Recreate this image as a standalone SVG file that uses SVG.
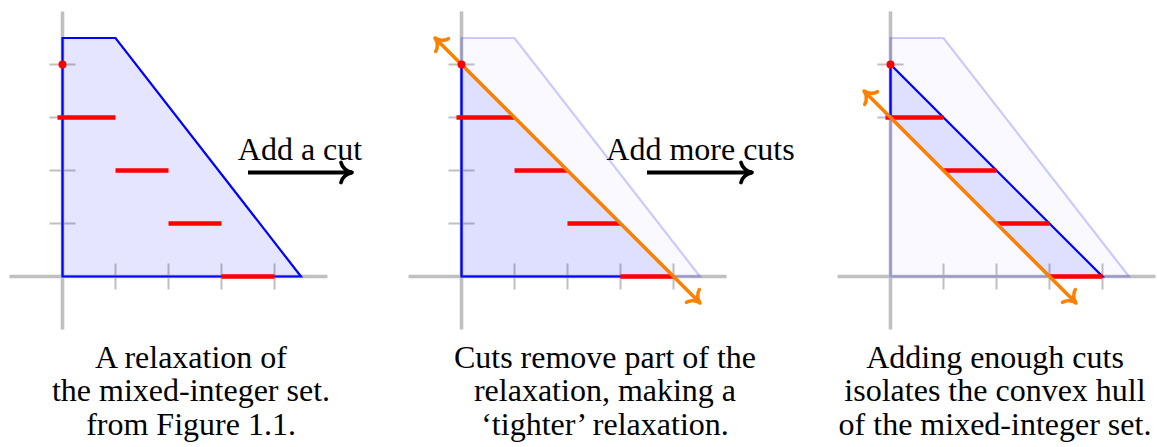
<svg xmlns="http://www.w3.org/2000/svg" width="1157" height="447" viewBox="0 0 1157 447">
<style>
.axis{stroke:#c0c0c0;stroke-width:3.6;fill:none}
.tick{stroke:#c0c0c0;stroke-width:2;fill:none}
.relax{fill:#0000ff;fill-opacity:0.1;stroke:#0000ff;stroke-width:2.2;stroke-linejoin:miter}
.faded{fill:#0000ff;fill-opacity:0.025;stroke:#0000ff;stroke-opacity:0.2;stroke-width:2.2}
.seg{stroke:#ff0000;stroke-width:4.5;fill:none}
.dot{fill:#ff0000}
.cut{stroke:#ff8000;stroke-width:3.5;fill:none;marker-start:url(#tipO);marker-end:url(#tipO)}
.conn{stroke:#000;stroke-width:3.8;fill:none;marker-end:url(#tipK)}
.lbl{font-family:'Liberation Serif','DejaVu Serif',serif;font-size:32px;fill:#000;text-anchor:middle}
</style>
<defs>
<marker id="tipK" markerUnits="userSpaceOnUse" markerWidth="30" markerHeight="30" refX="0" refY="0" orient="auto" overflow="visible" viewBox="-15 -15 30 30">
<path d="M -11 -10 C -10 -5 -5 -0.8 0 0 C -5 0.8 -10 5 -11 10" fill="none" stroke="#000" stroke-width="3.8" stroke-linecap="round" stroke-linejoin="round"/>
</marker>
<marker id="tipO" markerUnits="userSpaceOnUse" markerWidth="30" markerHeight="30" refX="0" refY="0" orient="auto-start-reverse" overflow="visible" viewBox="-15 -15 30 30">
<path d="M -10 -9 C -9 -4.5 -4.5 -0.7 0 0 C -4.5 0.7 -9 4.5 -10 9" fill="none" stroke="#ff8000" stroke-width="3.5" stroke-linecap="round" stroke-linejoin="round"/>
</marker>
</defs>

<g id="panel1">
<path class="axis" d="M9.5 276.5H327.5M62.5 329.5V11.5"/>
<path class="tick" d="M115.5 263.5V289.5M168.5 263.5V289.5M221.5 263.5V289.5M274.5 263.5V289.5M49.5 223.5H75.5M49.5 170.5H75.5M49.5 117.5H75.5M49.5 64.5H75.5"/>
<polygon class="relax" points="62.5,276.5 62.5,38 115.5,38 301,276.5"/>
<path class="seg" d="M57.5 117.5H115.5M115.5 170.5H168.5M168.5 223.5H221.5M221.5 276.5H274.5"/>
<circle class="dot" cx="62.5" cy="64.5" r="4"/>
<text class="lbl" x="191" y="367.5">A relaxation of</text>
<text class="lbl" x="191" y="401">the mixed-integer set.</text>
<text class="lbl" x="191" y="434.5">from Figure 1.1.</text>
</g>

<g id="panel2">
<path class="axis" d="M408.5 276.5H726.5M461.5 329.5V11.5"/>
<path class="tick" d="M514.5 263.5V289.5M567.5 263.5V289.5M620.5 263.5V289.5M673.5 263.5V289.5M448.5 223.5H474.5M448.5 170.5H474.5M448.5 117.5H474.5M448.5 64.5H474.5"/>
<polygon class="faded" points="461.5,276.5 461.5,38 514.5,38 700,276.5"/>
<polygon class="relax" points="461.5,276.5 461.5,64.5 673.5,276.5"/>
<path class="seg" d="M456.5 117.5H514.5M514.5 170.5H567.5M567.5 223.5H620.5M620.5 276.5H673.5"/>
<path class="cut" d="M435 38L700 303"/>
<circle class="dot" cx="461.5" cy="64.5" r="4"/>
<text class="lbl" x="605" y="367.5">Cuts remove part of the</text>
<text class="lbl" x="605" y="401">relaxation, making a</text>
<text class="lbl" x="605" y="434.5">‘tighter’ relaxation.</text>
</g>

<g id="panel3">
<path class="axis" d="M837.5 276.5H1155.5M890.5 329.5V11.5"/>
<path class="tick" d="M943.5 263.5V289.5M996.5 263.5V289.5M1049.5 263.5V289.5M1102.5 263.5V289.5M877.5 117.5H903.5M877.5 64.5H903.5"/>
<polygon class="faded" points="890.5,276.5 890.5,38 943.5,38 1129,276.5"/>
<polygon class="relax" points="890.5,64.5 890.5,117.5 1049.5,276.5 1102.5,276.5"/>
<path class="seg" d="M885.5 117.5H943.5M943.5 170.5H996.5M996.5 223.5H1049.5M1049.5 276.5H1102.5"/>
<path class="cut" d="M864 91L1076 303"/>
<circle class="dot" cx="890.5" cy="64.5" r="4"/>
<text class="lbl" x="995" y="367.5">Adding enough cuts</text>
<text class="lbl" x="995" y="401">isolates the convex hull</text>
<text class="lbl" x="995" y="434.5">of the mixed-integer set.</text>
</g>

<g id="connectors">
<path class="conn" d="M248 172.5H352"/>
<text class="lbl" x="300" y="159.5">Add a cut</text>
<path class="conn" d="M647 172.5H752"/>
<text class="lbl" x="700.5" y="159.5">Add more cuts</text>
</g>
</svg>
